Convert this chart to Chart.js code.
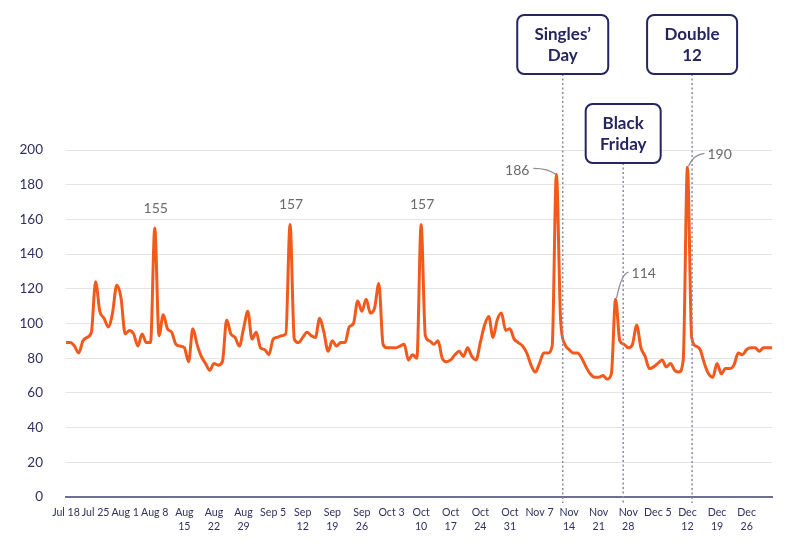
<!DOCTYPE html>
<html>
<head>
<meta charset="utf-8">
<script src="https://cdn.jsdelivr.net/npm/chart.js@4/dist/chart.umd.min.js"></script>
<style>
  html, body { margin: 0; padding: 0; background: #fff; }
  #wrap { width: 800px; height: 550px; }
</style>
</head>
<body>
<div id="wrap"><canvas id="chart"></canvas></div>
<script>
// ============================================
// DATA
// ============================================

const startDate = new Date(2022, 6, 18); // Jul 18, one point per day

const weekLabels = [
  'Jul 18', 'Jul 25', 'Aug 1', 'Aug 8', ['Aug', '15'], ['Aug', '22'], ['Aug', '29'],
  'Sep 5', ['Sep', '12'], ['Sep', '19'], ['Sep', '26'], 'Oct 3', ['Oct', '10'],
  ['Oct', '17'], ['Oct', '24'], ['Oct', '31'], 'Nov 7', ['Nov', '14'], ['Nov', '21'],
  ['Nov', '28'], 'Dec 5', ['Dec', '12'], ['Dec', '19'], ['Dec', '26']
];

const dailyValues = [
   89,  89,  87,  83,  90,  92,  95, 124, 107, 103,
   98, 106, 122, 115,  94,  96,  94,  87,  94,  89,
   89, 155,  93, 105,  97,  95,  88,  87,  86,  78,
   97,  88,  81,  77,  73,  77,  76,  78, 102,  94,
   92,  87,  97, 107,  91,  95,  86,  85,  82,  91,
   92,  93,  94, 157,  91,  89,  92,  95,  93,  92,
  103,  95,  84,  90,  87,  89,  89,  98, 100, 113,
  107, 114, 106, 109, 123,  88,  86,  86,  86,  87,
   88,  79,  82,  80, 157,  93,  90,  88,  90,  80,
   78,  79,  82,  84,  81,  86,  81,  79,  89,  99,
  104,  92, 102, 106,  96,  97,  91,  89,  87,  83,
   76,  72,  77,  83,  83,  87, 186, 102,  88,  85,
   83,  83,  80,  75,  71,  69,  69,  70,  68,  71,
  114,  90,  88,  86,  88,  99,  86,  81,  74,  75,
   77,  79,  75,  77,  73,  72,  79, 190,  92,  87,
   85,  77,  71,  69,  77,  71,  74,  74,  76,  83,
   82,  85,  86,  86,  84,  86,  86,  86
];

// shopping events: name lines + position (day index) of the dotted marker
const eventNames  = [['Singles\u2019', 'Day'], ['Black', 'Friday'], ['Double', '12']];
const eventIndex  = [117.5, 131.8, 148.1];

// peaks that get a value label
const peakIndex = [21, 53, 84, 116, 130, 147];
const peakSide  = ['top', 'top', 'top', 'left', 'right', 'right'];

const yTicks = { min: 0, max: 200, step: 20 };

// ============================================
// HELPERS
// ============================================

const dayLabels = dailyValues.map((_, i) => {
  const d = new Date(startDate);
  d.setDate(d.getDate() + i);
  return d.toLocaleDateString('en-US', { month: 'short', day: 'numeric' });
});

const NAVY = '#25255f';
const FONT = 'Lato, "Open Sans", sans-serif';

// label layout per peak (offset of the text from the point)
const peakLayout = [
  { dx: 1,   dy: -20 },
  { dx: 1,   dy: -20 },
  { dx: 1,   dy: -20 },
  { dx: -27, dy: -4 },
  { dx: 16,  dy: -26 },
  { dx: 20,  dy: -13 }
];

// ============================================
// ANNOTATIONS PLUGIN
// ============================================

const annotations = {
  id: 'annotations',
  afterDatasetsDraw(chart) {
    const { ctx, chartArea, scales: { x } } = chart;
    const meta = chart.getDatasetMeta(0);

    // event boxes + dotted lines
    const boxes = [
      { w: 91, top: chartArea.top - 135 },
      { w: 75, top: chartArea.top - 46 },
      { w: 90, top: chartArea.top - 135 }
    ];
    eventNames.forEach((lines, k) => {
      const cx = x.getPixelForValue(eventIndex[k]);
      const b  = boxes[k];
      const h  = 59;
      ctx.save();
      ctx.strokeStyle = '#8a8a9a';
      ctx.lineWidth   = 1.5;
      ctx.setLineDash([2, 2.5]);
      ctx.beginPath();
      ctx.moveTo(cx, b.top + h);
      ctx.lineTo(cx, chartArea.bottom + 6);
      ctx.stroke();
      ctx.setLineDash([]);

      ctx.fillStyle   = '#fff';
      ctx.strokeStyle = NAVY;
      ctx.lineWidth   = 2;
      ctx.beginPath();
      ctx.roundRect(cx - b.w / 2, b.top, b.w, h, 7);
      ctx.fill();
      ctx.stroke();

      ctx.fillStyle    = NAVY;
      ctx.font         = `bold 17px ${FONT}`;
      ctx.textAlign    = 'center';
      ctx.textBaseline = 'middle';
      ctx.fillText(lines[0], cx, b.top + h / 2 - 10);
      ctx.fillText(lines[1], cx, b.top + h / 2 + 11);
      ctx.restore();
    });

    // peak value labels
    ctx.save();
    ctx.font         = `14px ${FONT}`;
    ctx.fillStyle    = '#6a6a6a';
    ctx.strokeStyle  = '#8a8a9a';
    ctx.lineWidth    = 1.2;
    ctx.textBaseline = 'middle';
    peakIndex.forEach((idx, k) => {
      const pt   = meta.data[idx];
      const text = String(dailyValues[idx]);
      const side = peakSide[k];
      const { dx, dy } = peakLayout[k];
      const tx = pt.x + dx, ty = pt.y + dy;
      if (side === 'top') {
        ctx.textAlign = 'center';
        ctx.fillText(text, tx, ty);
      } else if (side === 'left') {
        ctx.textAlign = 'right';
        ctx.fillText(text, tx, ty);
        ctx.beginPath();
        ctx.moveTo(tx + 4, ty - 2);
        ctx.quadraticCurveTo(pt.x - 8, ty - 2, pt.x - 1, pt.y);
        ctx.stroke();
      } else {
        ctx.textAlign = 'left';
        ctx.fillText(text, tx, ty);
        ctx.beginPath();
        ctx.moveTo(pt.x + 1, pt.y - 1);
        ctx.quadraticCurveTo(pt.x + 6, ty, tx - 3, ty - 1);
        ctx.stroke();
      }
    });
    ctx.restore();
  }
};

// ============================================
// CHART
// ============================================

new Chart(document.getElementById('chart'), {
  type: 'line',
  data: {
    labels: dayLabels,
    datasets: [{
      data: dailyValues,
      borderColor: '#f15a1c',
      borderWidth: 3,
      pointRadius: 0,
      fill: false,
      cubicInterpolationMode: 'monotone'
    }]
  },
  options: {
    responsive: true,
    maintainAspectRatio: false,
    animation: false,
    layout: { padding: { top: 150, right: 28, left: 0, bottom: 0 } },
    plugins: { legend: { display: false }, tooltip: { enabled: false } },
    scales: {
      x: {
        grid: { display: false, drawTicks: false },
        border: { display: true, color: '#6e6e8e', width: 2 },
        afterFit: s => { s.height = 53; },
        ticks: {
          autoSkip: false,
          maxRotation: 0,
          padding: 9,
          color: '#2f2f62',
          font: { family: FONT, size: 10.6, lineHeight: 1.3 },
          callback: (v, i) => (i % 7 === 0 ? weekLabels[i / 7] : null)
        }
      },
      y: {
        min: yTicks.min,
        max: yTicks.max,
        grid: { color: '#e4e4e4', lineWidth: 1, drawTicks: false },
        border: { display: false },
        afterFit: s => { s.width = 66; },
        ticks: {
          stepSize: yTicks.step,
          padding: 23,
          color: '#2f2f62',
          font: { family: FONT, size: 13.5 }
        }
      }
    }
  },
  plugins: [annotations]
});
</script>
</body>
</html>
